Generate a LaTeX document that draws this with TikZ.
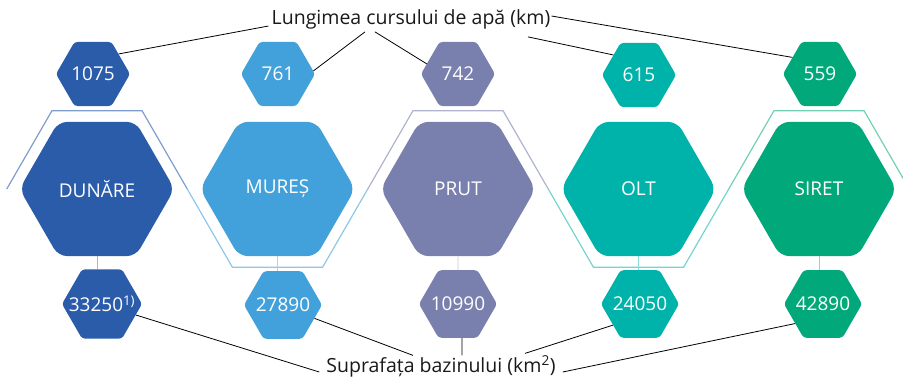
\documentclass[tikz,border=0pt]{standalone}
\usepackage{fontspec}
\setmainfont{Open Sans}
\usetikzlibrary{shapes.geometric}

\definecolor{dunare}{HTML}{2A5CAA}
\definecolor{mures}{HTML}{42A1DA}
\definecolor{prut}{HTML}{7980AE}
\definecolor{olt}{HTML}{00B3AA}
\definecolor{siret}{HTML}{00A87A}

\tikzset{
  hexbase/.style={regular polygon, regular polygon sides=6, inner sep=-12pt, text=white},
  bighex/.style={hexbase, minimum size=155pt, rounded corners=9pt, font=\fontsize{19}{22}\selectfont},
  tophex/.style={hexbase, minimum size=74pt, rounded corners=3pt, font=\fontsize{19}{22}\selectfont},
  bothex/.style={hexbase, minimum size=78pt, rounded corners=3pt, font=\fontsize{19}{22}\selectfont},
  rim/.style={line width=1.2pt},
  stem/.style={line width=0.8pt},
  leader/.style={black, line width=0.8pt},
  caption/.style={font=\fontsize{19.5}{22}\selectfont, inner sep=0pt, text=black!90}
}

\begin{document}
\begin{tikzpicture}[x=1pt,y=-1pt]
        \useasboundingbox (0,0) rectangle (903,379);

        % rim
        \draw[rim,dunare!60] (6.75,189) -- (51.9,110.8) -- (142.1,110.8) -- (187.25,189);
        \draw[rim,mures!60] (187.25,189) -- (232.4,267.2) -- (322.6,267.2) -- (367.75,189);
        \draw[rim,prut!60] (367.75,189) -- (412.9,110.8) -- (503.1,110.8) -- (548.25,189);
        \draw[rim,olt!55] (548.25,189) -- (593.4,267.2) -- (683.6,267.2) -- (728.75,189);
        \draw[rim,siret!55] (728.75,189) -- (773.9,110.8) -- (864.1,110.8) -- (909.25,189);

        % rivers
        \node[bighex,fill=dunare] (dun) at (97,189) {DUNĂRE};
        \node[bighex,fill=mures] (mur) at (277.5,189) {MUREȘ};
        \node[bighex,fill=prut] (prut) at (458,189) {PRUT};
        \node[bighex,fill=olt] (olt) at (638.5,189) {OLT};
        \node[bighex,fill=siret] (sir) at (819,189) {SIRET};

        % lengths
        \node[tophex,fill=dunare] (l1075) at (93,74) {1075};
        \node[tophex,fill=mures] (l761) at (278,74) {761};
        \node[tophex,fill=prut] (l742) at (458,74) {742};
        \node[tophex,fill=olt] (l615) at (639,75) {615};
        \node[tophex,fill=siret] (l559) at (820,74) {559};

        % areas
        \node[bothex,fill=dunare,minimum size=80pt] (a33250) at (102,304) {33250\textsuperscript{1)}};
        \node[bothex,fill=mures] (a27890) at (283,305) {27890};
        \node[bothex,fill=prut] (a10990) at (458,304) {10990};
        \node[bothex,fill=olt] (a24050) at (640,304) {24050};
        \node[bothex,fill=siret] (a42890) at (823,304) {42890};

        % stems
        \draw[stem,dunare!45] (dun.south) -- (dun.south |- a33250.north);
        \draw[stem,mures!45] (mur.south) -- (mur.south |- a27890.north);
        \draw[stem,prut!45] (prut.south) -- (a10990.north);
        \draw[stem,olt!45] (olt.south) -- (olt.south |- a24050.north);
        \draw[stem,siret!45] (sir.south) -- (sir.south |- a42890.north);

        % captions
        \node[caption,anchor=base] (len) at (411,25) {Lungimea cursului de apă (km)};
        \node[caption,anchor=base] (sup) at (441,373) {Suprafața bazinului (km\textsuperscript{2})};

        \draw[leader] ([xshift=-3pt,yshift=-1pt]len.base west) -- (l1075.38);
        \draw[leader] ([xshift=-46pt,yshift=-2pt]len.south) -- (l761.5);
        \draw[leader] ([xshift=-36pt,yshift=-2pt]len.south) -- (l742.162);
        \draw[leader] ([xshift=117pt,yshift=-7pt]len.south) -- (l615.142);
        \draw[leader] ([xshift=1pt,yshift=9pt]len.base east) -- (l559.149);

        \draw[leader] ([xshift=-7pt,yshift=1pt]sup.base west) -- (a33250.-18);
        \draw[leader] ([xshift=-28pt]sup.north) -- (a27890.-23);
        \draw[leader] ([xshift=21pt]sup.north) -- ([xshift=4pt]a10990.south);
        \draw[leader] ([xshift=84pt,yshift=2pt]sup.north) -- (a24050.-142);
        \draw[leader] ([xshift=7pt,yshift=1pt]sup.base east) -- (a42890.-145);
    \end{tikzpicture}
\end{document}
